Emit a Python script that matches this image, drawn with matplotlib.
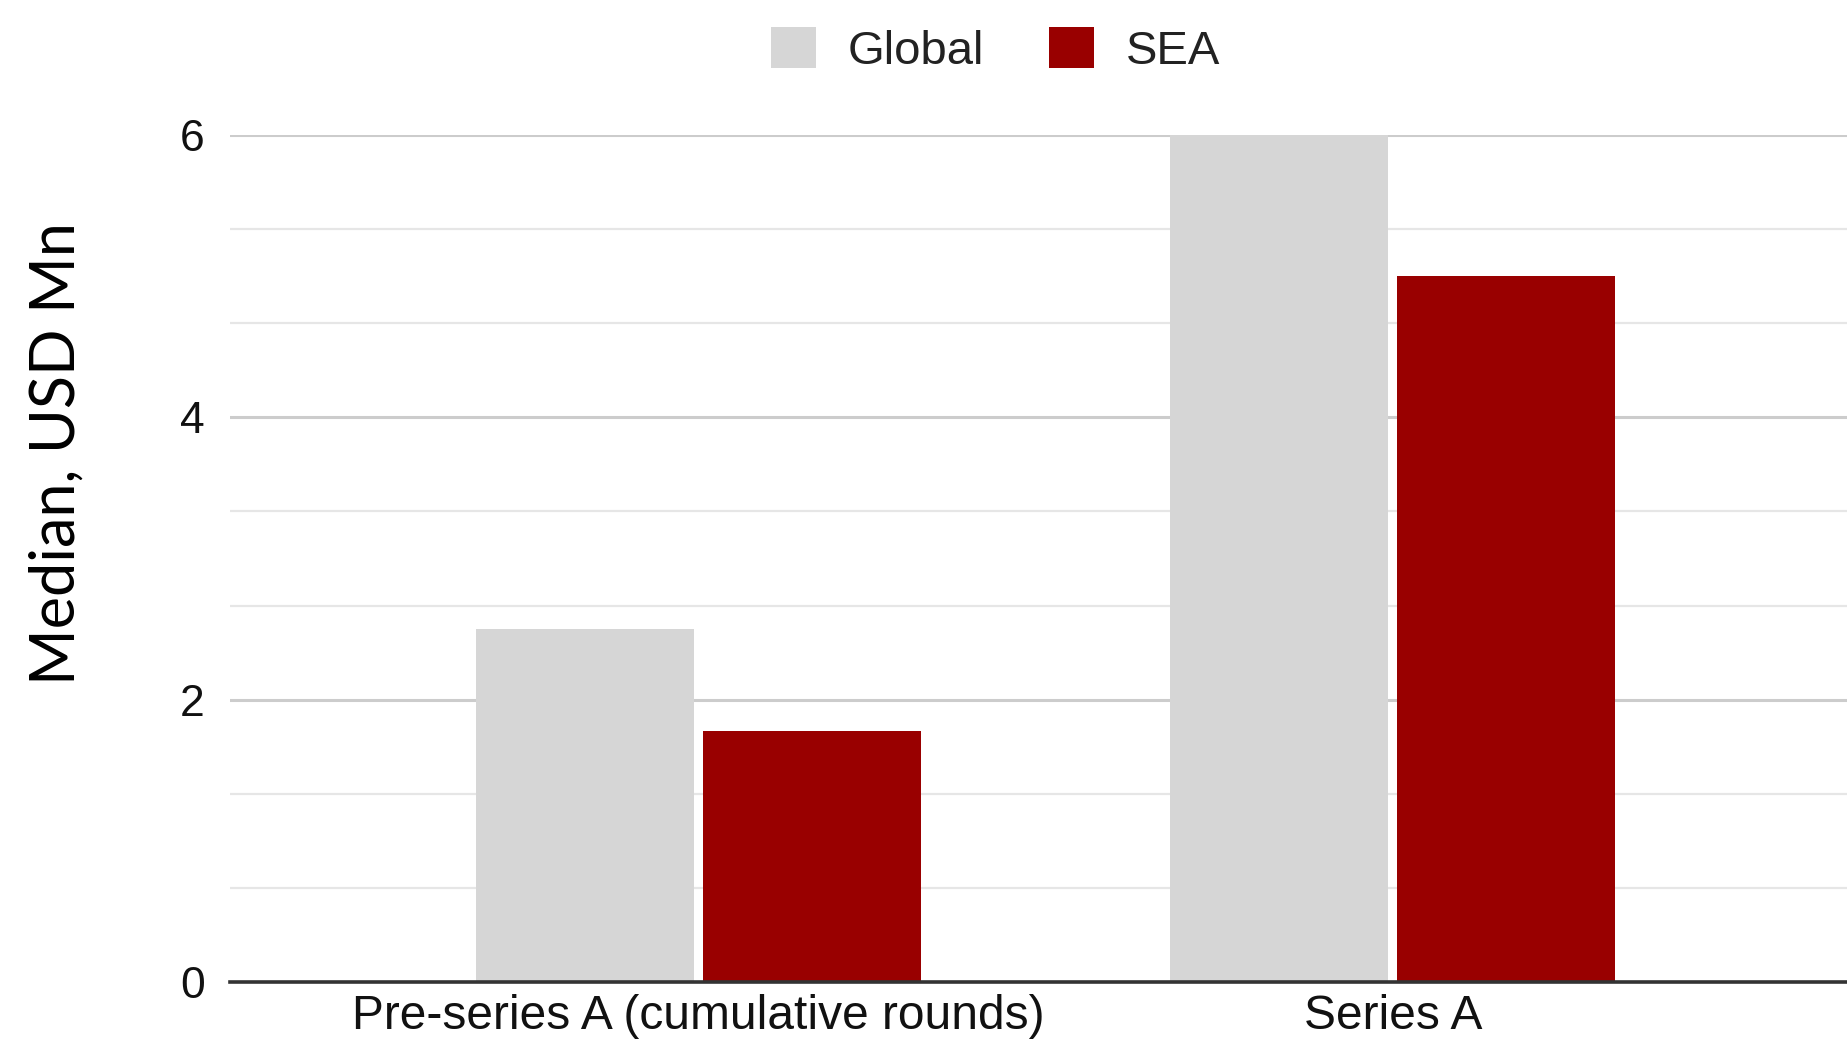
import matplotlib
matplotlib.use('Agg')
import matplotlib.pyplot as plt
from matplotlib.patches import Patch
from matplotlib.ticker import MultipleLocator
import numpy as np

# data
categories = ['Pre-series A (cumulative rounds)', 'Series A']
global_vals = [2.5, 6.0]
sea_vals = [1.78, 5.0]
series_names = ['Global', 'SEA']
colors = ['#d6d6d6', '#990000']

plt.rcParams['font.family'] = ['Liberation Sans', 'DejaVu Sans']

fig = plt.figure(figsize=(18.47, 10.49), dpi=100)
ax = fig.add_axes([0.1245, 0.0639, 0.8755, 0.8074])

x = np.arange(len(categories))
w = 0.314
off = 0.1634
ax.bar(x - off, global_vals, width=w, color=colors[0], zorder=3)
ax.bar(x + off, sea_vals, width=w, color=colors[1], zorder=3)

ax.set_xlim(-0.675, 1.654)
ax.set_ylim(0, 6)
ax.yaxis.set_major_locator(MultipleLocator(2))
ax.yaxis.set_minor_locator(MultipleLocator(2 / 3))
ax.grid(which='major', axis='y', color='#cccccc', lw=2.2, zorder=0)
ax.grid(which='minor', axis='y', color='#e6e6e6', lw=1.6, zorder=0)

for s in ['top', 'right', 'left']:
    ax.spines[s].set_visible(False)
ax.spines['bottom'].set_color('#333333')
ax.spines['bottom'].set_linewidth(2.6)
ax.spines['bottom'].set_zorder(4)

ax.set_xticks(x)
ax.set_xticklabels(categories, fontsize=34.5, color='#111111')
ax.tick_params(axis='x', length=0, pad=8.5)
ax.tick_params(axis='y', which='both', length=0, pad=18, labelsize=32,
               labelcolor='#111111')

ax.set_ylabel('Median, USD Mn', fontsize=44, family=['Lato', 'DejaVu Sans'],
              color='#000000')
ax.yaxis.set_label_coords(-0.0893, 0.624)

handles = [Patch(facecolor=c, edgecolor='none') for c in colors]
fig.legend(handles, series_names, loc='center', bbox_to_anchor=(0.539, 0.952),
           ncol=2, frameon=False, fontsize=34, handlelength=0.95,
           handleheight=0.95, handletextpad=0.68, columnspacing=1.36,
           labelcolor='#222222')

fig.savefig('out.png', dpi=100)
